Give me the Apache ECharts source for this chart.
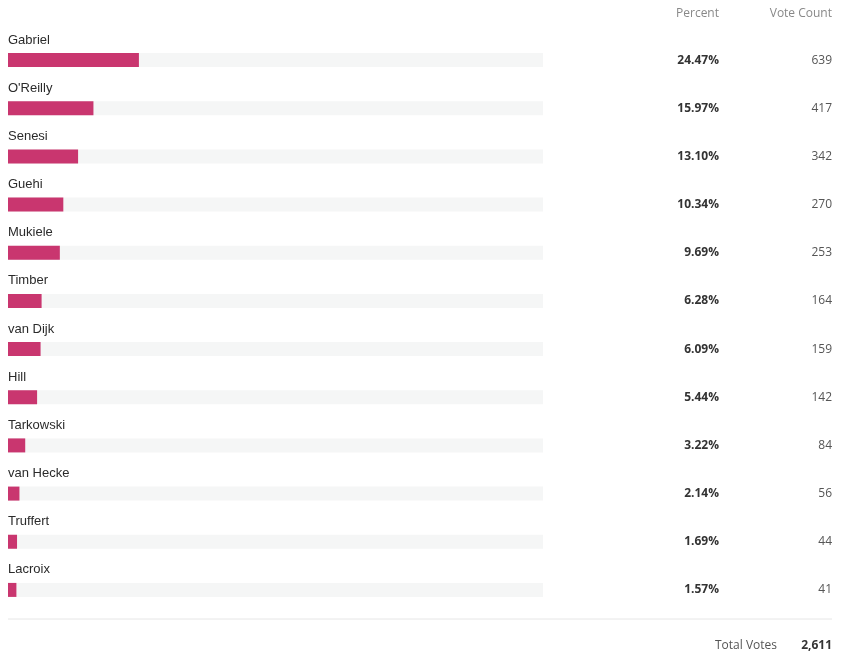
<!DOCTYPE html>
<html>
<head>
<meta charset="utf-8">
<script src="https://cdn.jsdelivr.net/npm/echarts@6/dist/echarts.min.js"></script>
<style>
    html, body { margin: 0; padding: 0; background: #fff; }
    #chart { width: 849px; height: 661px; }
</style>
</head>
<body>
<div id="chart"></div>
<script>
var names = ['Gabriel', "O'Reilly", 'Senesi', 'Guehi', 'Mukiele', 'Timber', 'van Dijk', 'Hill', 'Tarkowski', 'van Hecke', 'Truffert', 'Lacroix'];
var percents = [24.47, 15.97, 13.10, 10.34, 9.69, 6.28, 6.09, 5.44, 3.22, 2.14, 1.69, 1.57];
var votes = [639, 417, 342, 270, 253, 164, 159, 142, 84, 56, 44, 41];
var totalVotes = '2,611';

var track = names.map(function () { return 100; });
var numFont = '"Open Sans", "Noto Sans", sans-serif';

var myChart = echarts.init(document.getElementById('chart'));

var option = {
    animation: false,
    grid: {
        left: 8,
        right: 306,
        top: 36,
        bottom: 47
    },
    xAxis: {
        type: 'value',
        min: 0,
        max: 100,
        show: false
    },
    yAxis: [{
        type: 'category',
        data: names,
        inverse: true,
        show: false
    }, {
        // 百分比列
        type: 'category',
        data: percents.map(function (v) { return v.toFixed(2) + '%'; }),
        inverse: true,
        position: 'right',
        axisLine: { show: false },
        axisTick: { show: false },
        axisLabel: {
            align: 'right',
            margin: 176,
            color: '#333',
            fontWeight: 'bold',
            fontSize: 12,
            fontFamily: numFont
        }
    }, {
        // 票数列
        type: 'category',
        data: votes.map(String),
        inverse: true,
        position: 'right',
        axisLine: { show: false },
        axisTick: { show: false },
        axisLabel: {
            align: 'right',
            margin: 289,
            color: '#555',
            fontSize: 12,
            fontFamily: numFont
        }
    }],
    series: [{
        name: 'track',
        type: 'bar',
        data: track,
        barWidth: 14,
        barGap: '-100%',
        silent: true,
        itemStyle: { color: '#f5f6f6' },
        label: {
            show: true,
            position: [0, -13],
            align: 'left',
            verticalAlign: 'middle',
            formatter: '{b}',
            color: '#2b2b2b',
            fontSize: 13,
            fontFamily: '"Liberation Sans", Arial, sans-serif'
        }
    }, {
        name: 'Percent',
        type: 'bar',
        data: percents,
        barWidth: 14,
        barGap: '-100%',
        itemStyle: { color: '#c9366f' }
    }],
    graphic: [{
        type: 'text',
        right: 849 - 719,
        top: 8,
        style: { text: 'Percent', fill: '#888', font: '12px ' + numFont }
    }, {
        type: 'text',
        right: 849 - 832,
        top: 8,
        style: { text: 'Vote Count', fill: '#888', font: '12px ' + numFont }
    }, {
        type: 'line',
        shape: { x1: 8, y1: 619, x2: 832, y2: 619 },
        style: { stroke: '#e6e6e6', lineWidth: 1 }
    }, {
        type: 'text',
        right: 849 - 777,
        top: 640,
        style: { text: 'Total Votes', fill: '#555', font: '12px ' + numFont }
    }, {
        type: 'text',
        right: 849 - 832,
        top: 640,
        style: { text: totalVotes, fill: '#333', font: 'bold 12px ' + numFont }
    }]
};

myChart.setOption(option);
window.onresize = myChart.resize;
</script>
</body>
</html>
